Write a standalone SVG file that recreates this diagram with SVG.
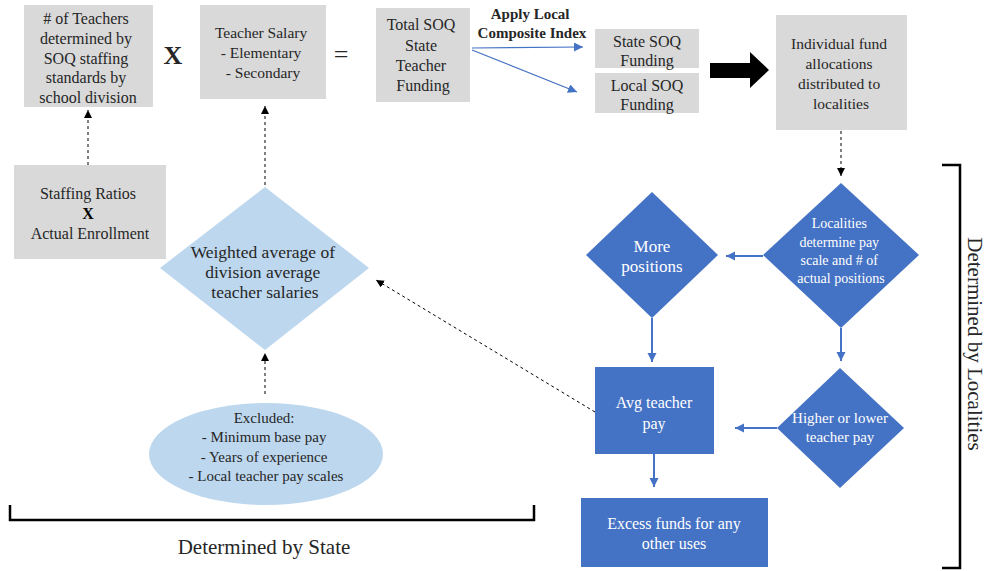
<svg xmlns="http://www.w3.org/2000/svg" width="987" height="571" viewBox="0 0 987 571">
<defs>
<style>
text, tspan{font-family:"Liberation Serif","Times New Roman",serif;text-anchor:middle;dominant-baseline:central}
text{fill:#262626}
.g{fill:#d9d9d9}
.b{fill:#4472c4}
.lb{fill:#bdd7ee}
.wt tspan{fill:#ffffff}
.dash{stroke:#000;stroke-width:1;stroke-dasharray:3,3;fill:none}
.bl{stroke:#4472c4;stroke-width:2;fill:none}
.thin{stroke:#4472c4;stroke-width:1.2;fill:none}
.br{stroke:#000;stroke-width:2.5;fill:none}
</style>
<marker id="ak" markerUnits="userSpaceOnUse" markerWidth="10" markerHeight="10" refX="8" refY="4" orient="auto"><path d="M0,0 L8,4 L0,8 Z" fill="#000"/></marker>
<marker id="ab" markerUnits="userSpaceOnUse" markerWidth="12" markerHeight="12" refX="9" refY="4.5" orient="auto"><path d="M0,0 L9,4.5 L0,9 Z" fill="#4472c4"/></marker>
</defs>

<g id="n-teachers">
<rect class="g" x="24" y="5" width="129" height="102"/>
<text font-size="16">
<tspan x="88" y="18"># of Teachers</tspan>
<tspan x="88" y="38">determined by</tspan>
<tspan x="88" y="58">SOQ staffing</tspan>
<tspan x="88" y="77">standards by</tspan>
<tspan x="88" y="97">school division</tspan>
</text>
</g>
<g id="op-x"><text x="173" y="55" font-size="26" font-weight="bold" fill="#000">X</text></g>
<g id="n-salary">
<rect class="g" x="200" y="5" width="126" height="94"/>
<text font-size="15.5">
<tspan x="263" y="32">Teacher Salary</tspan>
<tspan x="263" y="52">- Elementary</tspan>
<tspan x="263" y="72">- Secondary</tspan>
</text>
</g>
<g id="op-eq"><text x="341" y="54" font-size="26" fill="#000">=</text></g>
<g id="n-total">
<rect class="g" x="376" y="8" width="94" height="94"/>
<text font-size="16">
<tspan x="423" y="24">Total SOQ</tspan>
<tspan x="423" y="45">State</tspan>
<tspan x="423" y="65">Teacher</tspan>
<tspan x="423" y="85">Funding</tspan>
</text>
</g>
<g id="lbl-apply">
<text font-size="15" font-weight="bold" fill="#000">
<tspan x="532" y="14">Apply Local</tspan>
<tspan x="532" y="33">Composite Index</tspan>
</text>
</g>
<g id="n-state">
<rect class="g" x="595" y="29" width="104" height="39"/>
<text font-size="16"><tspan x="647" y="41">State SOQ</tspan><tspan x="647" y="60">Funding</tspan></text>
</g>
<g id="n-local">
<rect class="g" x="595" y="73" width="104" height="40"/>
<text font-size="16"><tspan x="647" y="85">Local SOQ</tspan><tspan x="647" y="104">Funding</tspan></text>
</g>
<g id="n-individual">
<rect class="g" x="776" y="15" width="131" height="115"/>
<text font-size="15.5">
<tspan x="841" y="43">Individual fund</tspan>
<tspan x="841" y="63">allocations</tspan>
<tspan x="841" y="83">distributed to</tspan>
<tspan x="841" y="103">localities</tspan>
</text>
</g>
<g id="n-staffing">
<rect class="g" x="14" y="165" width="152" height="94"/>
<text font-size="16">
<tspan x="90" y="193">Staffing Ratios</tspan>
<tspan x="90" y="213" font-weight="bold" fill="#000">X</tspan>
<tspan x="90" y="233">Actual Enrollment</tspan>
</text>
</g>
<g id="n-weighted">
<polygon class="lb" points="265,187 369,268 265,350 160,268"/>
<text font-size="17.5">
<tspan x="265" y="252">Weighted average of</tspan>
<tspan x="265" y="272">division average</tspan>
<tspan x="265" y="292">teacher salaries</tspan>
</text>
</g>
<g id="n-excluded">
<ellipse class="lb" cx="266" cy="454" rx="117" ry="51"/>
<text font-size="15">
<tspan x="266" y="418">Excluded:</tspan>
<tspan x="266" y="437">- Minimum base pay</tspan>
<tspan x="266" y="457">- Years of experience</tspan>
<tspan x="266" y="476">- Local teacher pay scales</tspan>
</text>
</g>
<g id="n-localities">
<polygon class="b" points="841,183 919,255 841,328 763,255"/>
<text class="wt" font-size="14">
<tspan x="841" y="223">Localities</tspan>
<tspan x="841" y="242">determine pay</tspan>
<tspan x="841" y="260">scale and # of</tspan>
<tspan x="841" y="278">actual positions</tspan>
</text>
</g>
<g id="n-more">
<polygon class="b" points="652,192 718,255 652,318 586,255"/>
<text class="wt" font-size="17"><tspan x="652" y="246">More</tspan><tspan x="652" y="266">positions</tspan></text>
</g>
<g id="n-avg">
<rect class="b" x="595" y="367" width="119" height="87"/>
<text class="wt" font-size="16"><tspan x="654" y="402">Avg teacher</tspan><tspan x="654" y="423">pay</tspan></text>
</g>
<g id="n-higher">
<polygon class="b" points="840,368 904,428 840,488 777,428"/>
<text class="wt" font-size="15"><tspan x="840" y="418">Higher or lower</tspan><tspan x="840" y="437">teacher pay</tspan></text>
</g>
<g id="n-excess">
<rect class="b" x="581" y="498" width="187" height="69"/>
<text class="wt" font-size="16"><tspan x="674" y="523">Excess funds for any</tspan><tspan x="674" y="543">other uses</tspan></text>
</g>

<g id="connectors">
<line class="thin" x1="472" y1="48" x2="583" y2="47" marker-end="url(#ab)"/>
<line class="thin" x1="472" y1="50" x2="577" y2="92" marker-end="url(#ab)"/>
<polygon points="710,63 750,63 750,52 769,70 750,88 750,78 710,78" fill="#000"/>
<line class="dash" x1="841" y1="131" x2="841" y2="176" marker-end="url(#ak)"/>
<line class="bl" x1="763" y1="256" x2="726" y2="256" marker-end="url(#ab)"/>
<line class="bl" x1="652" y1="318" x2="652" y2="362" marker-end="url(#ab)"/>
<line class="bl" x1="841" y1="328" x2="841" y2="361" marker-end="url(#ab)"/>
<line class="bl" x1="777" y1="428" x2="735" y2="428" marker-end="url(#ab)"/>
<line class="bl" x1="654" y1="454" x2="654" y2="487" marker-end="url(#ab)"/>
<line class="dash" x1="595" y1="412" x2="376" y2="280" marker-end="url(#ak)"/>
<line class="dash" x1="88" y1="165" x2="88" y2="110" marker-end="url(#ak)"/>
<line class="dash" x1="265" y1="185" x2="265" y2="106" marker-end="url(#ak)"/>
<line class="dash" x1="265" y1="394" x2="265" y2="353" marker-end="url(#ak)"/>
</g>

<g id="bracket-state">
<path class="br" d="M10,505 V520 H534 V505"/>
<text x="264" y="547" font-size="21" fill="#000">Determined by State</text>
</g>
<g id="bracket-localities">
<path class="br" d="M942,165 H960 V568 H942"/>
<text x="975" y="344" font-size="21" fill="#000" transform="rotate(90 975 344)">Determined by Localities</text>
</g>
</svg>
